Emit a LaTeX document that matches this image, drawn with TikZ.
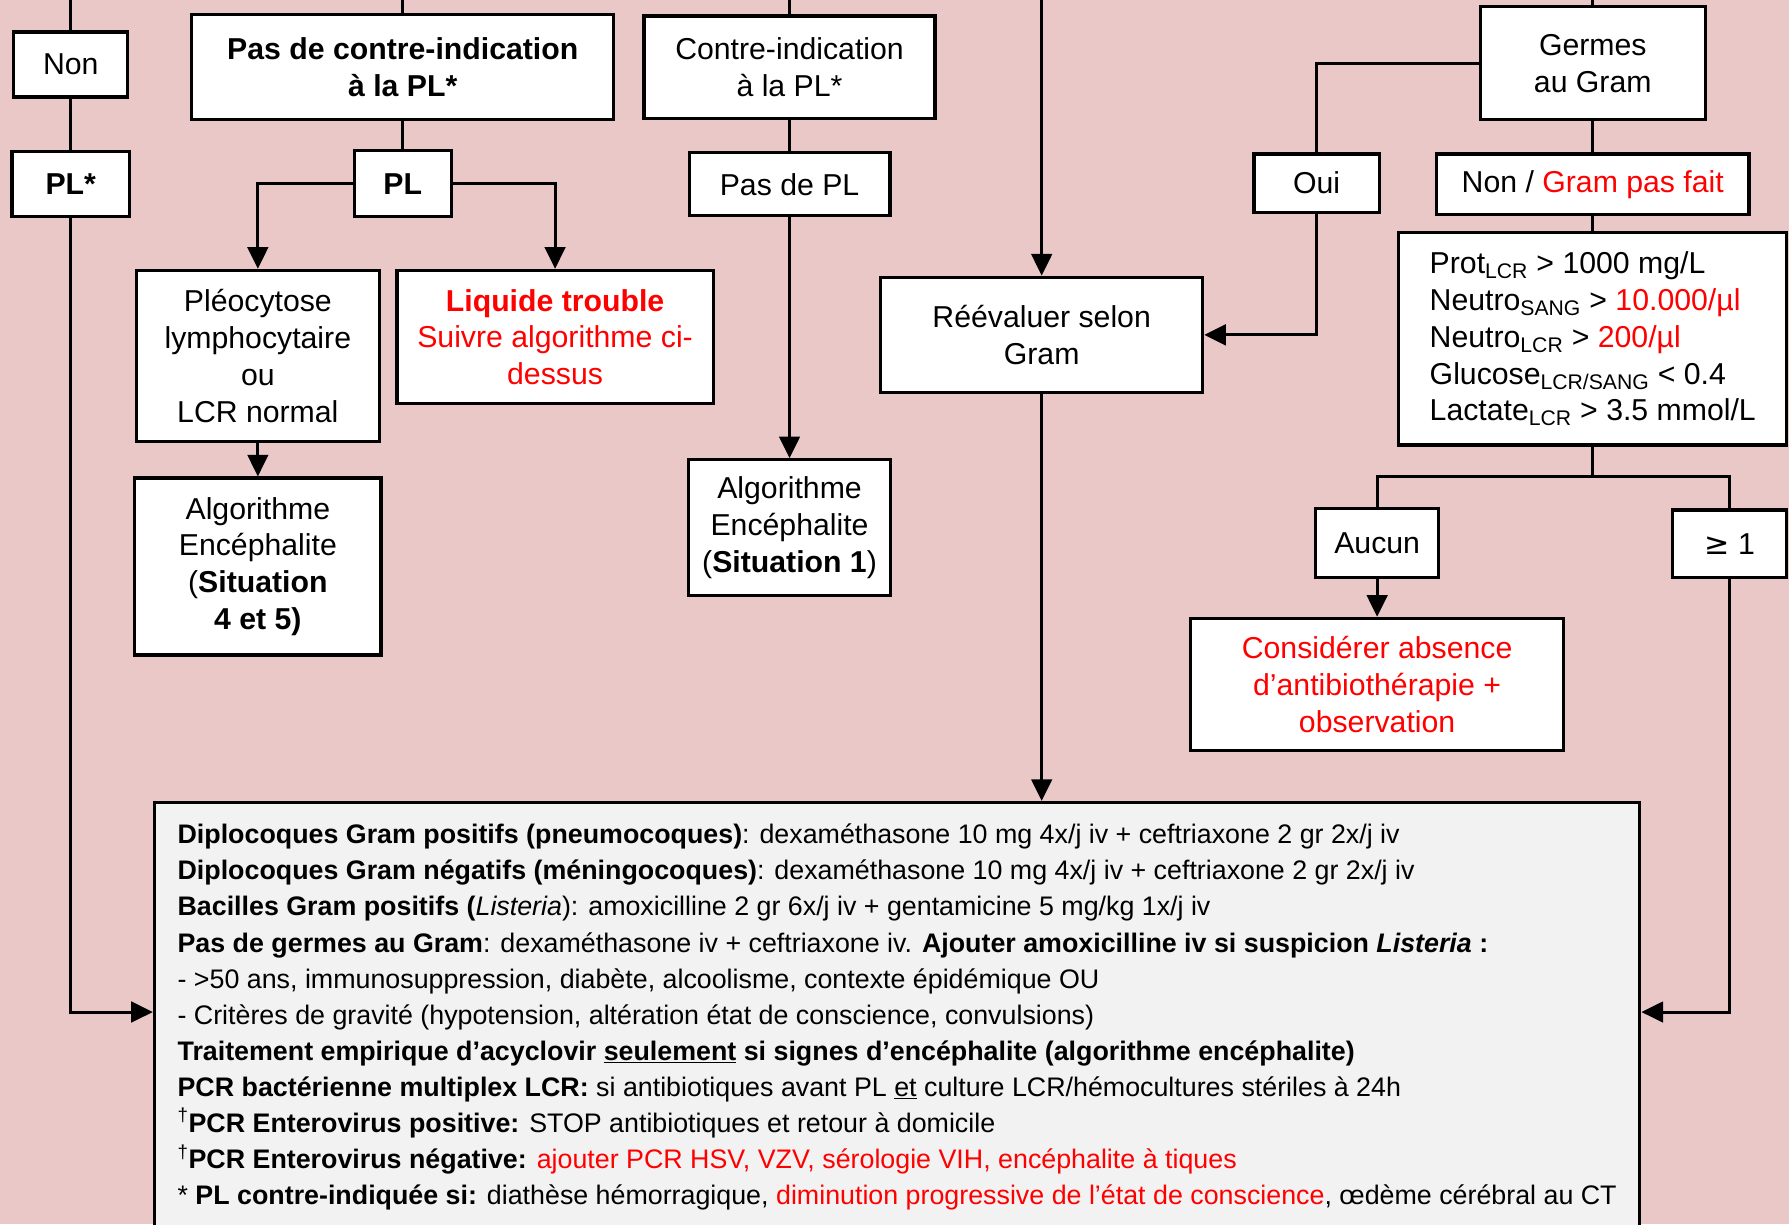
\documentclass[tikz,border=0pt]{standalone}
\usepackage{fontspec}
\setmainfont{Liberation Sans}
\newfontfamily\dejavu{DejaVu Sans}
\usetikzlibrary{arrows.meta}
\definecolor{bgpink}{RGB}{234,200,200}
\definecolor{boxgray}{RGB}{242,242,242}
\definecolor{alarm}{RGB}{255,0,0}
\newcommand\cellfont{\fontsize{26.5}{32.3}\selectfont}
\newcommand\notefont{\fontsize{23.5}{31.6}\selectfont}
\tikzset{
  box/.style={draw,line width=2.8pt,fill=white,align=center,inner sep=0pt,font=\cellfont},
  sz/.style 2 args={minimum width=#1pt,minimum height=#2pt},
  link/.style={line width=2.6pt},
  arr/.style={link,-{Triangle[length=19pt,width=18pt]}},
}
\begin{document}
\begin{tikzpicture}[x=1pt,y=-1pt]
\fill[bgpink] (0,0) rectangle (1568,1073);
\clip (0,0) rectangle (1568,1073);

\coordinate (t1) at (62,0);
\coordinate (t2) at (353,0);
\coordinate (t3) at (692,0);
\coordinate (t4) at (913,0);
\coordinate (t5) at (1396,0);
\coordinate (yin) at (0,887);
\coordinate (split) at (1396,418);

\node[box,sz={100}{57}] (non) at (62,56.5) {Non};
\node[box,sz={103}{57}] (plstar) at (62,161.5) {\textbf{PL*}};
\node[box,sz={370}{92}] (pasci) at (353,59) {\textbf{Pas de contre-indication}\\\textbf{à la PL*}};
\node[box,sz={85}{58}] (pl) at (353,161) {\textbf{PL}};
\node[box,sz={213}{150}] (pleo) at (226,312) {Pléocytose\\lymphocytaire\\ou\\LCR normal};
\node[box,sz={277}{117},text=alarm] (trouble) at (486.5,295.5) {\textbf{Liquide trouble}\\Suivre algorithme ci-\\dessus};
\node[box,sz={216}{155}] (algo45) at (226,496.5) {Algorithme\\Encéphalite\\(\textbf{Situation}\\\textbf{4 et 5)}};
\node[box,sz={255}{90}] (ci) at (692,59) {Contre-indication\\à la PL*};
\node[box,sz={176}{55}] (paspl) at (692,161.5) {Pas de PL};
\node[box,sz={177}{119}] (algo1) at (692,462.5) {Algorithme\\Encéphalite\\(\textbf{Situation 1})};
\node[box,sz={282}{101}] (reeval) at (913,293.5) {Réévaluer selon\\Gram};
\node[box,sz={197}{99}] (germes) at (1396,55.5) {Germes\\au Gram};
\node[box,sz={110}{51}] (oui) at (1154,160.5) {Oui};
\node[box,sz={274}{53}] (nongram) at (1396,161.5) {Non / \textcolor{alarm}{Gram pas fait}};
\node[box,sz={340}{186},align=left] (crit) at (1396,297) {Prot\textsubscript{LCR} > 1000 mg/L\\Neutro\textsubscript{SANG} > \textcolor{alarm}{10.000/µl}\\Neutro\textsubscript{LCR} > \textcolor{alarm}{200/µl}\\Glucose\textsubscript{LCR/SANG} < 0.4\\Lactate\textsubscript{LCR} > 3.5 mmol/L};
\node[box,sz={108}{60}] (aucun) at (1207,476) {Aucun};
\node[box,sz={100}{59}] (geq) at (1516,476.5) {{\dejavu ≥} 1};
\node[box,sz={327}{116},text=alarm] (consider) at (1207,600) {Considérer absence\\d’antibiothérapie +\\observation};
\node[draw,line width=2.6pt,fill=boxgray,anchor=north west,minimum width=1302pt,inner xsep=0pt,inner ysep=19pt,align=left,font=\notefont] (treat) at (134,702) {%
\textbf{Diplocoques Gram positifs (pneumocoques)}: dexaméthasone 10 mg 4x/j iv + ceftriaxone 2 gr 2x/j iv\\
\textbf{Diplocoques Gram négatifs (méningocoques)}: dexaméthasone 10 mg 4x/j iv + ceftriaxone 2 gr 2x/j iv\\
\textbf{Bacilles Gram positifs (}\textit{Listeria}): amoxicilline 2 gr 6x/j iv + gentamicine 5 mg/kg 1x/j iv\\
\textbf{Pas de germes au Gram}: dexaméthasone iv + ceftriaxone iv. \textbf{Ajouter amoxicilline iv si suspicion \textit{Listeria} :}\\
- >50 ans, immunosuppression, diabète, alcoolisme, contexte épidémique OU\\
- Critères de gravité (hypotension, altération état de conscience, convulsions)\\
\textbf{Traitement empirique d’acyclovir \underline{seulement} si signes d’encéphalite (algorithme encéphalite)}\\
\textbf{PCR bactérienne multiplex LCR:} si antibiotiques avant PL \underline{et} culture LCR/hémocultures stériles à 24h\\
\textsuperscript{†}\textbf{PCR Enterovirus positive:} STOP antibiotiques et retour à domicile\\
\textsuperscript{†}\textbf{PCR Enterovirus négative:} \textcolor{alarm}{ajouter PCR HSV, VZV, sérologie VIH, encéphalite à tiques}\\
* \textbf{PL contre-indiquée si:} diathèse hémorragique, \textcolor{alarm}{diminution progressive de l’état de conscience}, œdème cérébral au CT};

\draw[link] (t1) -- (non);
\draw[link] (non) -- (plstar);
\draw[arr] (plstar) |- (treat.west |- yin);
\draw[link] (t2) -- (pasci);
\draw[link] (pasci) -- (pl);
\draw[arr] (pl.west) -| (pleo);
\draw[arr] (pl.east) -| (trouble);
\draw[arr] (pleo) -- (algo45);
\draw[link] (t3) -- (ci);
\draw[link] (ci) -- (paspl);
\draw[arr] (paspl) -- (algo1);
\draw[arr] (t4) -- (reeval);
\draw[arr] (reeval) -- (reeval |- treat.north);
\draw[link] (t5) -- (germes);
\draw[link] (germes.west) -| (oui);
\draw[arr] (oui) |- (reeval);
\draw[link] (germes) -- (nongram);
\draw[link] (nongram) -- (crit);
\draw[link] (crit) -- (split);
\draw[link] (aucun) |- (split) -| (geq);
\draw[arr] (aucun) -- (consider);
\draw[arr] (geq) |- (treat.east |- yin);
\end{tikzpicture}
\end{document}
